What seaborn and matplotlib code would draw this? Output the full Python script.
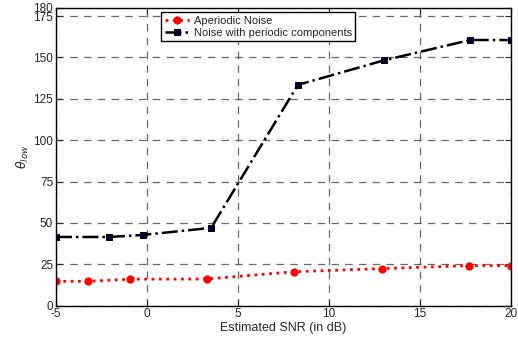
import matplotlib
matplotlib.use("Agg")
import matplotlib.pyplot as plt
import seaborn as sns
import pandas as pd

snr_aperiodic = [-5.0, -3.26, -0.93, 3.28, 8.11, 12.9, 17.7, 20.0]
theta_aperiodic = [14.7, 14.7, 16.0, 16.1, 20.5, 22.4, 24.2, 24.2]
snr_periodic = [-5.0, -2.09, -0.24, 3.53, 8.3, 13.06, 17.76, 20.0]
theta_periodic = [41.5, 41.5, 42.7, 47.0, 133.4, 148.3, 160.5, 160.5]
labels = ["Aperiodic Noise", "Noise with periodic components"]
xticks = [-5, 0, 5, 10, 15, 20]
yticks = [0, 25, 50, 75, 100, 125, 150, 175, 180]

sns.set_style("white")
plt.rcParams['font.family'] = ['Liberation Sans', 'DejaVu Sans']

fig = plt.figure(figsize=(5.18, 3.37), dpi=100)
ax = fig.add_axes([0.108, 0.093, 0.878, 0.884])

df1 = pd.DataFrame({"x": snr_aperiodic, "y": theta_aperiodic})
df2 = pd.DataFrame({"x": snr_periodic, "y": theta_periodic})
sns.lineplot(data=df1, x="x", y="y", ax=ax, color="red", linestyle=":", linewidth=2,
             marker="o", markersize=5.2, markeredgecolor="red", label=labels[0], sort=False)
sns.lineplot(data=df2, x="x", y="y", ax=ax, color="black", linestyle="-.", linewidth=1.8,
             marker="s", markersize=4.8, markerfacecolor="#000033", markeredgecolor="black",
             label=labels[1], sort=False)

ax.set_xlim(-5, 20)
ax.set_ylim(0, 180)
ax.set_xticks(xticks)
ax.set_yticks(yticks)
ax.set_xticklabels([str(t) for t in xticks])
ax.set_yticklabels([str(t) for t in yticks])
ax.tick_params(direction="in", length=4, width=0.8, labelsize=8.5, top=True, right=True,
               bottom=True, left=True, pad=2)
ax.grid(True, linestyle=(0, (6, 5)), color="#444444", linewidth=0.9, alpha=0.8)
for s in ax.spines.values():
    s.set_visible(True)
    s.set_color("black")
    s.set_linewidth(1.0)

ax.set_xlabel("Estimated SNR (in dB)", fontsize=9, labelpad=1)
ax.set_ylabel(r"$\theta_{low}$", fontsize=9, labelpad=2)

leg = ax.legend(loc="upper left", bbox_to_anchor=(0.222, 1.0), fontsize=8, frameon=True,
                fancybox=False, edgecolor="black", framealpha=1, borderpad=0.3,
                handlelength=2.2, handletextpad=0.4, labelspacing=0.2, borderaxespad=0.4)
leg.get_frame().set_linewidth(1.0)

fig.savefig("out.png", dpi=100)
